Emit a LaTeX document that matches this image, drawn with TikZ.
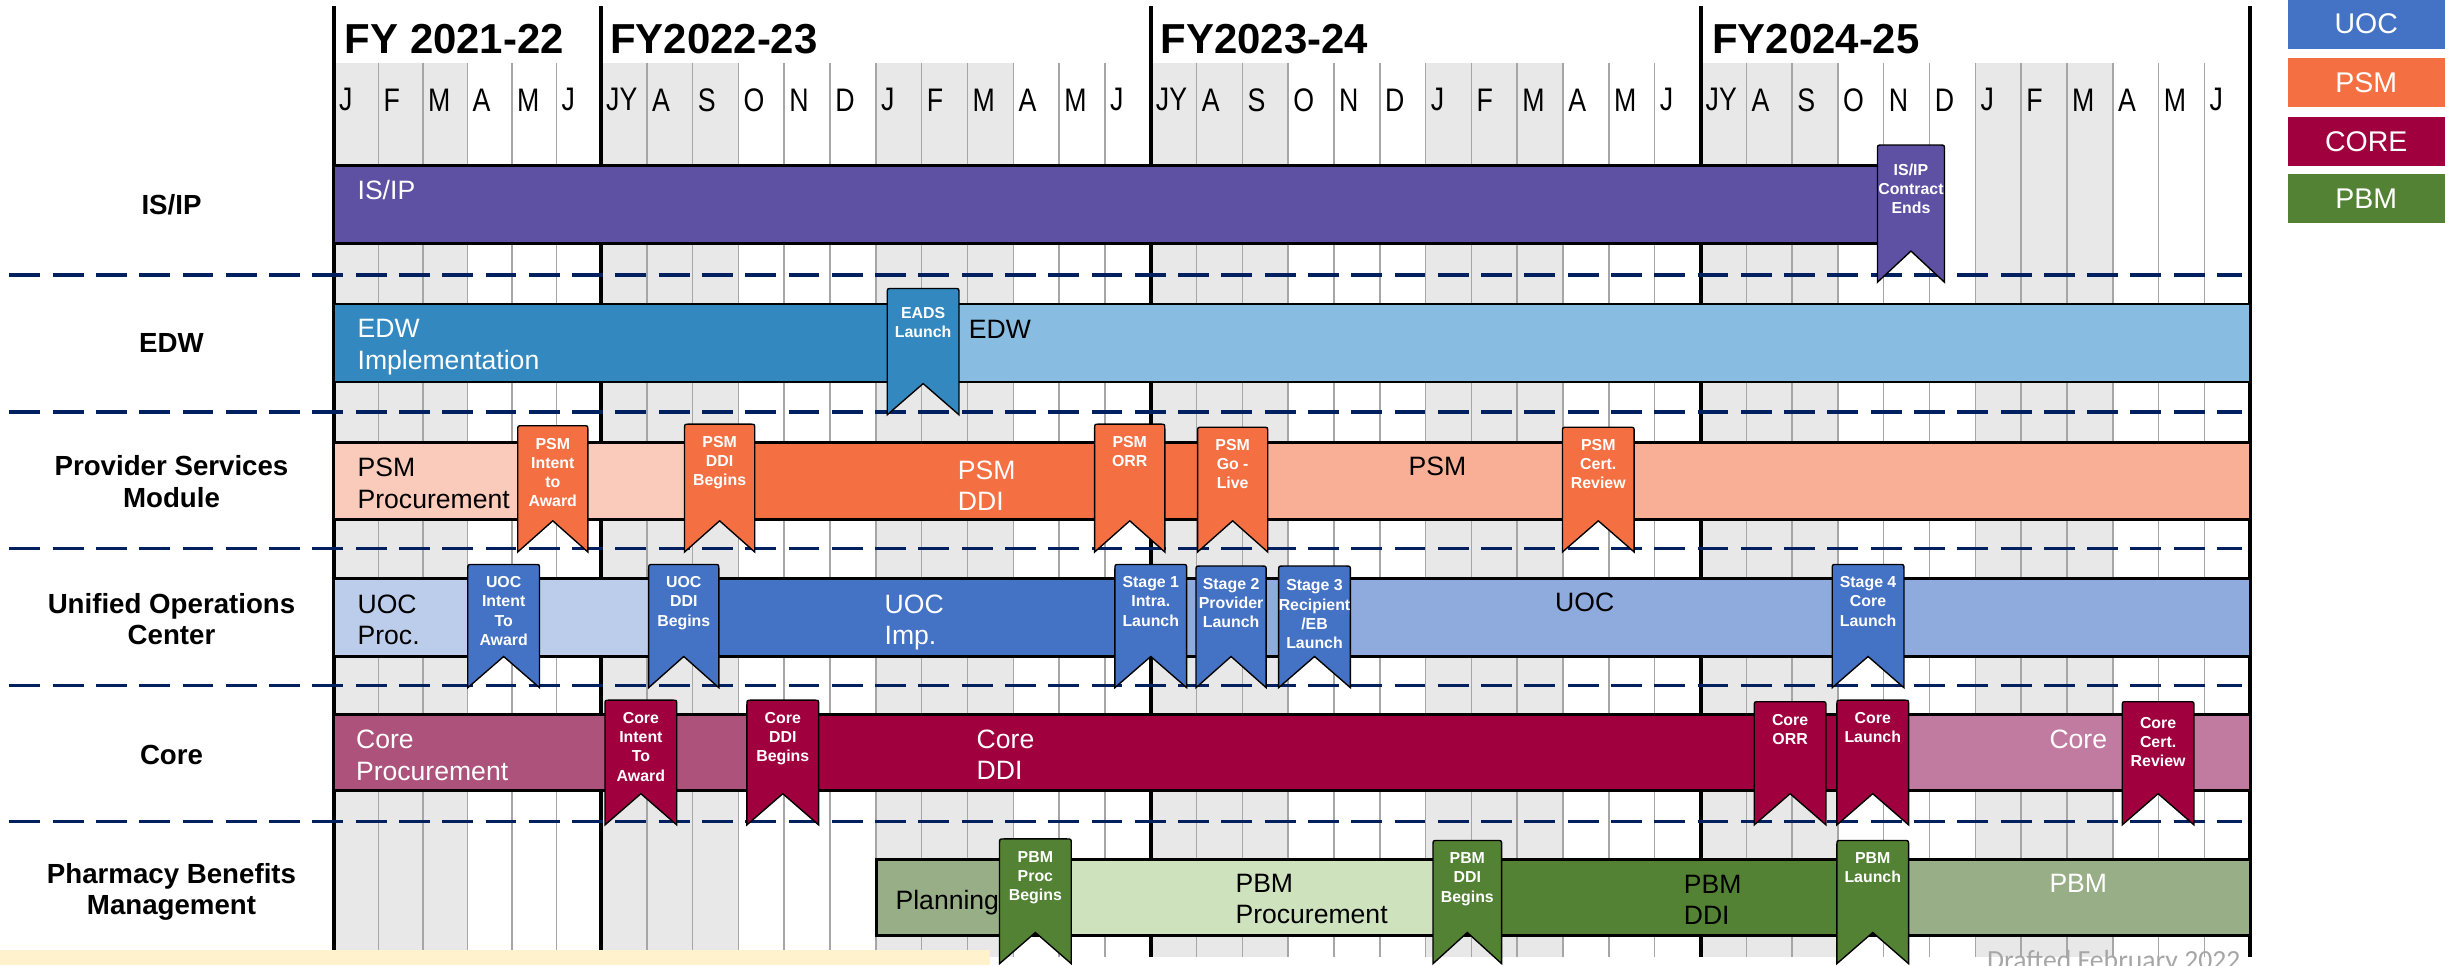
\documentclass[tikz,border=0pt]{standalone}
\usepackage{fontspec}
\setmainfont{Liberation Sans}
\newfontfamily\narrowfont{Liberation Sans}[FakeStretch=0.82]
\newfontfamily\draftfont{Carlito}
\usepackage{xcolor}
\usepackage{tikz}

\definecolor{isip}{HTML}{5E50A2}
\definecolor{edwdark}{HTML}{3288BF}
\definecolor{edwlight}{HTML}{88BCE0}
\definecolor{psmlight}{HTML}{FACABA}
\definecolor{psmmid}{HTML}{F47043}
\definecolor{psmpale}{HTML}{F8AF95}
\definecolor{uoclight}{HTML}{BCCDEB}
\definecolor{uocmid}{HTML}{4472C4}
\definecolor{uocpale}{HTML}{8FAADC}
\definecolor{corelight}{HTML}{AD537B}
\definecolor{coremid}{HTML}{A0003E}
\definecolor{corepale}{HTML}{C27BA0}
\definecolor{pbmgrey}{HTML}{97AE86}
\definecolor{pbmlight}{HTML}{CFE2BE}
\definecolor{pbmmid}{HTML}{548235}
\definecolor{gridshade}{HTML}{E8E8E8}
\definecolor{gridline}{HTML}{A6A6A6}
\definecolor{sepblue}{HTML}{002060}
\definecolor{notebg}{HTML}{FFF2CC}

\begin{document}
\begin{tikzpicture}[x=0.02cm,y=-0.02cm,
  fylbl/.style={font=\fontsize{15.3}{18}\selectfont\bfseries,anchor=base west,inner sep=0pt},
  monlbl/.style={font=\narrowfont\fontsize{11.9}{14}\selectfont,anchor=west,inner sep=0pt},
  rowlbl/.style={font=\fontsize{10.1}{11.6}\selectfont\bfseries,align=center},
  bartxt/.style={font=\fontsize{9.7}{11.4}\selectfont,align=left,anchor=north west,inner sep=0pt},
  mstxt/.style={font=\fontsize{5.8}{7}\selectfont\bfseries,align=center,text=white,
                anchor=north,inner sep=0pt},
  legbox/.style={minimum width=2.02cm,minimum height=0.63cm,inner sep=0pt,text=white,
                 font=\fontsize{10.4}{12}\selectfont},
  segm/.style={draw=black,line width=1pt},
  msbox/.style={draw=black,line width=0.5pt},
  gridln/.style={draw=gridline,line width=0.55pt},
  fyln/.style={draw=black,line width=1.3pt},
  sepln/.style={draw=sepblue,line width=1.2pt,dash pattern=on 11.3pt off 4.5pt}
]
\useasboundingbox (0,0) rectangle (1568,619);

%% Quarter shading and month grid
\foreach \q in {0,2,...,12} {
  \pgfmathsetmacro{\xa}{3*\q<6 ? 214.2+3*\q*28.53 : 385.4+(3*\q-6)*29.38}
  \pgfmathsetmacro{\xb}{3*\q+3<7 ? 214.2+(3*\q+3)*28.53 : 385.4+(3*\q-3)*29.38}
  \fill[gridshade] (\xa,40.6) rectangle (\xb,614);
}
\foreach \m in {1,...,41} {
  \pgfmathsetmacro{\xx}{\m<6 ? 214.2+\m*28.53 : 385.4+(\m-6)*29.38}
  \draw[gridln] (\xx,40.6) -- (\xx,614);
}

%% Month letters
\foreach \mn [count=\m from 0] in {J,F,M,A,M,J,
    JY,A,S,O,N,D,J,F,M,A,M,J,
    JY,A,S,O,N,D,J,F,M,A,M,J,
    JY,A,S,O,N,D,J,F,M,A,M,J} {
  \pgfmathsetmacro{\xx}{\m<6 ? 214.2+\m*28.53 : 385.4+(\m-6)*29.38}
  \node[monlbl] (mon-\m) at (\xx+3,64) {\mn};
}

%% Fiscal years
\foreach \xx in {214.2,385.4,738.2,1091,1443}
  \draw[fyln] (\xx,4) -- (\xx,614);
\node[fylbl] (fy22) at (220.8,34) {FY 2021-22};
\node[fylbl] (fy23) at (391,34) {FY2022-23};
\node[fylbl] (fy24) at (744,34) {FY2023-24};
\node[fylbl] (fy25) at (1097.7,34) {FY2024-25};

%% Legend
\node[legbox,fill=uocmid]  (leg-uoc)  at (1517.5,15.5)  {UOC};
\node[legbox,fill=psmmid]  (leg-psm)  at (1517.5,53)    {PSM};
\node[legbox,fill=coremid] (leg-core) at (1517.5,91)    {CORE};
\node[legbox,fill=pbmmid]  (leg-pbm)  at (1517.5,127.5) {PBM};

%% Row separators
\foreach \yy in {176.4,264.2,351.8,439.6,526.9}
  \draw[sepln] (6,\yy) -- (1438,\yy);

%% Row labels
\node[rowlbl] (row-isip) at (110,131) {IS/IP};
\node[rowlbl] (row-edw)  at (110,220) {EDW};
\node[rowlbl] (row-psm)  at (110,309) {Provider Services\\Module};
\node[rowlbl] (row-uoc)  at (110,397) {Unified Operations\\Center};
\node[rowlbl] (row-core) at (110,484) {Core};
\node[rowlbl] (row-pbm)  at (110,572) {Pharmacy Benefits\\Management};

%% Bars
\draw[segm,fill=isip]      (214.2,106) rectangle (1226,156);
\draw[segm,fill=edwdark]   (214.2,195) rectangle (592,245);
\draw[segm,fill=edwlight]  (592,195)   rectangle (1443,245);
\draw[segm,fill=psmlight]  (214.2,284) rectangle (461,333);
\draw[segm,fill=psmmid]    (461,284)   rectangle (790,333);
\draw[segm,fill=psmpale]   (790,284)   rectangle (1443,333);
\draw[segm,fill=uoclight]  (214.2,371) rectangle (438,421);
\draw[segm,fill=uocmid]    (438,371)   rectangle (738,421);
\draw[segm,fill=uocpale]   (738,371)   rectangle (1443,421);
\draw[segm,fill=corelight] (214.2,458) rectangle (502,507);
\draw[segm,fill=coremid]   (502,458)   rectangle (1200,507);
\draw[segm,fill=corepale]  (1200,458)  rectangle (1443,507);
\draw[segm,fill=pbmgrey]   (562,551)   rectangle (664,600);
\draw[segm,fill=pbmlight]  (664,551)   rectangle (941,600);
\draw[segm,fill=pbmmid]    (941,551)   rectangle (1200,600);
\draw[segm,fill=pbmgrey]   (1200,551)  rectangle (1443,600);

%% Bar texts
\node[bartxt,text=white] (isip-txt)  at (229,115.4) {IS/IP};
\node[bartxt,text=white] (edw-txt)   at (229,204.6) {EDW\\Implementation};
\node[bartxt]            (edw-txt2)  at (621,205)   {EDW};
\node[bartxt]            (psm-txt)   at (229,293.5) {PSM\\Procurement};
\node[bartxt,text=white] (psm-txt2)  at (614,295)   {PSM\\DDI};
\node[bartxt]            (psm-txt3)  at (903,293)   {PSM};
\node[bartxt]            (uoc-txt)   at (229,381.3) {UOC\\Proc.};
\node[bartxt,text=white] (uoc-txt2)  at (567,381)   {UOC\\Imp.};
\node[bartxt]            (uoc-txt3)  at (997,380)   {UOC};
\node[bartxt,text=white] (core-txt)  at (228,468)   {Core\\Procurement};
\node[bartxt,text=white] (core-txt2) at (626,467.6) {Core\\DDI};
\node[bartxt,text=white] (core-txt3) at (1314,467.5) {Core};
\node[bartxt]            (pbm-txt)   at (574,570.3) {Planning};
\node[bartxt]            (pbm-txt2)  at (792,560)   {PBM\\Procurement};
\node[bartxt]            (pbm-txt3)  at (1079.5,560.7) {PBM\\DDI};
\node[bartxt,text=white] (pbm-txt4)  at (1314,560)  {PBM};

%% Milestone ribbons: left/right/top/bottom/colour/text offset/text
\foreach \xa/\xb/\yt/\yb/\col/\dy/\txt [count=\i] in {
    1204/1247/93/181/isip/15/{IS/IP\\Contract\\Ends},
    569/615/185/266/edwdark/15/{EADS\\Launch},
    332/377/273/354/psmmid/11/{PSM\\Intent\\to\\Award},
    439/484/272/354/psmmid/11/{PSM\\DDI\\Begins},
    702/747/272/354/psmmid/11/{PSM\\ORR},
    768/813/274/354/psmmid/11/{PSM\\Go -\\Live},
    1002/1048/274/354/psmmid/11/{PSM\\Cert.\\Review},
    300/346/362/441/uocmid/11/{UOC\\Intent\\To\\Award},
    416/461/362/441/uocmid/11/{UOC\\DDI\\Begins},
    715/761/362/441/uocmid/11/{Stage 1\\Intra.\\Launch},
    767/812/363/441/uocmid/11/{Stage 2\\Provider\\Launch},
    820/866/363/441/uocmid/12/{Stage 3\\Recipient\\/EB\\Launch},
    1175/1221/362/441/uocmid/11/{Stage 4\\Core\\Launch},
    388/434/449/529/coremid/11/{Core\\Intent\\To\\Award},
    479/525/449/529/coremid/11/{Core\\DDI\\Begins},
    1125/1171/450/529/coremid/11/{Core\\ORR},
    1178/1224/449/529/coremid/11/{Core\\Launch},
    1361/1407/450/529/coremid/13/{Core\\Cert.\\Review},
    641/687/538/618/pbmmid/11/{PBM\\Proc\\Begins},
    919/963/539/618/pbmmid/11/{PBM\\DDI\\Begins},
    1178/1224/539/618/pbmmid/11/{PBM\\Launch}} {
  \draw[msbox,fill=\col] (\xa,\yb) -- (\xa,\yt+3) .. controls (\xa,\yt) .. (\xa+3,\yt)
    -- (\xb-3,\yt) .. controls (\xb,\yt) .. (\xb,\yt+3) -- (\xb,\yb)
    -- ({(\xa+\xb)/2},\yb-20) -- cycle;
  \node[mstxt] (ms-\i) at ({(\xa+\xb)/2},\yt+\dy-3.5) {\txt};
}

%% Footer
\fill[notebg] (0,609) rectangle (635,619);
\node[font=\draftfont\fontsize{10.1}{12}\selectfont,text=gridline,anchor=base west,
      inner sep=0pt] (draft) at (1274,621.5) {Drafted February 2022};
\end{tikzpicture}
\end{document}
